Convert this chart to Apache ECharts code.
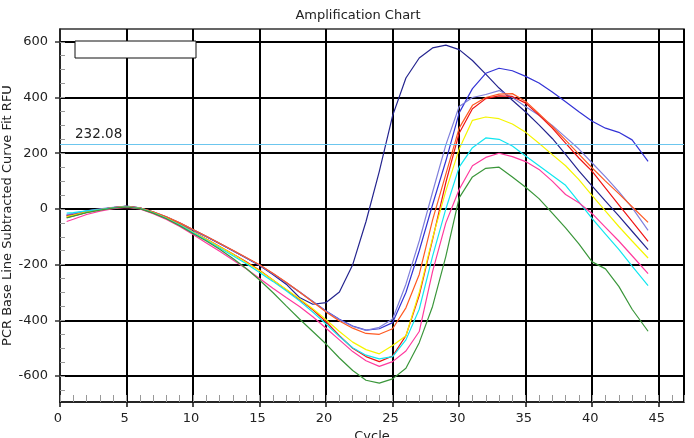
<!DOCTYPE html>
<html>
<head>
<meta charset="utf-8">
<script src="https://cdn.jsdelivr.net/npm/echarts@6/dist/echarts.min.js"></script>
<style>
html,body{margin:0;padding:0;background:#fff;}
#chart{width:694px;height:438px;}
</style>
</head>
<body>
<div id="chart"></div>
<script>
const cycles = [0.5,1,2,3,4,5,6,7,8,9,10,11,12,13,14,15,16,17,18,19,20,21,22,23,24,25,26,27,28,29,30,31,32,33,34,35,36,37,38,39,40,41,42,43,44.2];

const navy = [-24,-19,-9,-2,5,10,4,-11,-29,-51,-75,-99,-124,-150,-176,-203,-235,-270,-318,-342,-336,-298,-200,-45,135,335,470,542,578,588,572,533,484,434,390,348,302,253,196,137,82,28,-25,-80,-146];
const blue = [-22,-18,-8,-1,5,9,3,-12,-30,-52,-76,-100,-125,-150,-176,-202,-233,-265,-298,-332,-366,-396,-420,-435,-430,-408,-300,-150,15,172,345,432,487,505,496,476,452,420,385,349,315,290,275,248,171];
const lavender = [-20,-16,-7,0,6,9,4,-10,-28,-50,-74,-98,-123,-149,-175,-201,-232,-264,-297,-332,-367,-398,-422,-436,-425,-395,-270,-115,60,230,368,400,411,425,400,367,336,300,258,215,165,115,62,5,-77];
const orange = [-26,-21,-10,-2,5,9,4,-10,-28,-50,-74,-98,-123,-148,-174,-200,-231,-263,-298,-334,-370,-402,-428,-447,-450,-430,-355,-235,-40,125,290,372,400,412,414,386,342,296,247,197,147,100,55,8,-48];
const red = [-30,-25,-12,-3,4,8,2,-13,-32,-56,-82,-108,-135,-162,-190,-220,-255,-290,-325,-362,-405,-455,-500,-530,-548,-528,-455,-310,-110,95,272,360,396,406,404,380,337,290,236,183,135,75,15,-45,-116];
const yellow = [-28,-23,-11,-3,4,8,2,-13,-33,-57,-83,-109,-136,-163,-192,-222,-255,-288,-322,-358,-398,-440,-478,-505,-520,-490,-455,-300,-105,65,215,318,330,324,305,275,236,195,155,105,48,-8,-63,-115,-176];
const cyan = [-15,-13,-7,-2,4,8,2,-14,-34,-58,-85,-112,-140,-168,-197,-228,-260,-294,-330,-370,-413,-458,-498,-525,-538,-530,-470,-360,-170,0,150,220,255,250,226,190,155,120,85,25,-35,-90,-145,-205,-275];
const pink = [-45,-37,-20,-8,1,6,0,-17,-38,-63,-92,-122,-152,-183,-215,-250,-285,-318,-350,-387,-428,-470,-512,-545,-565,-548,-510,-440,-225,-50,70,155,185,200,188,170,142,100,52,22,-17,-66,-115,-168,-232];
const green = [-32,-26,-13,-4,3,7,1,-15,-35,-60,-88,-115,-145,-178,-214,-255,-300,-348,-395,-440,-485,-535,-580,-615,-625,-610,-572,-480,-350,-170,40,115,146,150,115,78,37,-15,-68,-125,-190,-215,-278,-360,-439];

const threshold = 232.08;
const yTicks = [-600,-400,-200,0,200,400,600];
const yMinorTicks = [-650,-600,-550,-500,-450,-400,-350,-300,-250,-200,-150,-100,-50,0,50,100,150,200,250,300,350,400,450,500,550,600];

const seriesList = [
  {name:'S1', values: navy, color:'#25258f'},
  {name:'S2', values: blue, color:'#3333d6'},
  {name:'S3', values: lavender, color:'#8080dc'},
  {name:'S4', values: orange, color:'#ff5a22'},
  {name:'S5', values: red, color:'#f01414'},
  {name:'S6', values: yellow, color:'#f5f500'},
  {name:'S7', values: cyan, color:'#10e6f0'},
  {name:'S8', values: pink, color:'#ff3a9e'},
  {name:'S9', values: green, color:'#3a963a'}
];

const FONT = 'DejaVu Sans';
const chart = echarts.init(document.getElementById('chart'), null, {renderer:'canvas'});

const series = seriesList.map((s, idx) => {
  const o = {
    name: s.name,
    type: 'line',
    xAxisIndex: 0,
    yAxisIndex: 0,
    showSymbol: false,
    symbol: 'none',
    smooth: false,
    lineStyle: {color: s.color, width: 1.2},
    itemStyle: {color: s.color},
    data: cycles.map((c, i) => [c, s.values[i]]),
    z: 3
  };
  if (idx === 0) {
    o.markLine = {
      silent: true,
      symbol: ['none','none'],
      animation: false,
      lineStyle: {color:'#6cc6ee', width:1.2, type:'solid'},
      label: {
        show: true,
        position: 'insideStartTop',
        formatter: String(threshold),
        color: '#222',
        fontFamily: FONT,
        fontSize: 13.5,
        padding: [0,0,0,12],
        distance: 3
      },
      data: [{yAxis: threshold}]
    };
  }
  return o;
});

chart.setOption({
  animation: false,
  backgroundColor: '#fff',
  title: {
    text: 'Amplification Chart',
    left: 353,
    top: 4,
    textAlign: 'center',
    textStyle: {fontFamily: FONT, fontSize: 13, fontWeight: 'normal', color: '#222'}
  },
  grid: {
    left: 60, right: 10, top: 29, bottom: 36,
    outerBoundsMode: 'none',
    containLabel: false,
    show: true, borderColor: '#333', borderWidth: 1.5
  },
  xAxis: [
    {
      type: 'value', min: 0, max: 46.9, interval: 5, position: 'bottom',
      name: 'Cycle', nameLocation: 'middle', nameGap: 28, nameMoveOverlap: false,
      nameTextStyle: {fontFamily: FONT, fontSize: 13, color: '#222'},
      axisLine: {show: true, onZero: false, lineStyle: {color: '#111', width: 1.5}},
      axisTick: {show: true, length: 5, lineStyle: {color: '#111', width: 1.5}},
      axisLabel: {showMaxLabel: false, margin: 10, fontFamily: FONT, fontSize: 13, color: '#222', padding: [0,4,0,0]},
      splitLine: {show: true, lineStyle: {color: '#000', width: 2}}
    },
    {
      type: 'value', min: 0, max: 46.9, interval: 1, position: 'bottom',
      axisLine: {show: false, onZero: false},
      axisTick: {show: true, inside: true, length: 7, lineStyle: {color: '#999', width: 1}},
      axisLabel: {show: false},
      splitLine: {show: false}
    }
  ],
  yAxis: [
    {
      type: 'value', min: -693, max: 646, position: 'left',
      name: 'PCR Base Line Subtracted Curve Fit RFU', nameLocation: 'middle', nameGap: 46, nameRotate: 90,
      nameMoveOverlap: false,
      nameTextStyle: {fontFamily: FONT, fontSize: 13, color: '#222'},
      axisLine: {show: true, onZero: false, lineStyle: {color: '#333', width: 1.5}},
      axisTick: {show: true, customValues: yTicks, length: 5, lineStyle: {color: '#333', width: 1.5}},
      axisLabel: {customValues: yTicks, margin: 12, fontFamily: FONT, fontSize: 13, color: '#222'},
      splitLine: {show: true, lineStyle: {color: '#000', width: 2}}
    },
    {
      type: 'value', min: -693, max: 646, position: 'left',
      axisLine: {show: false, onZero: false},
      axisTick: {show: true, inside: true, customValues: yMinorTicks, length: 5, lineStyle: {color: '#999', width: 1}},
      axisLabel: {show: false},
      splitLine: {show: false}
    }
  ],
  graphic: [
    {
      type: 'rect', z: 100,
      shape: {x: 75, y: 41, width: 121, height: 17},
      style: {fill: '#fff', stroke: '#111', lineWidth: 1}
    }
  ],
  series: series
});
</script>
</body>
</html>
